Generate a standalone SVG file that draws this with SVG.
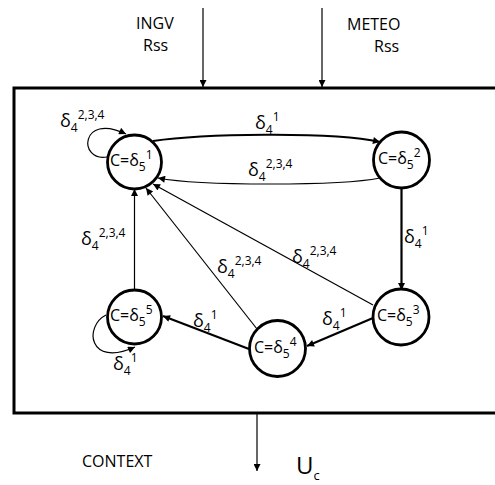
<svg xmlns="http://www.w3.org/2000/svg" width="495" height="485" viewBox="0 0 495 485">
<style>
text{font-family:"Open Sans","Liberation Sans",sans-serif;fill:#000}
.big{font-size:16px}
.nd{font-size:16px}
.lb{font-size:18px}
.s{font-size:12px}
.thin{fill:none;stroke:#000;stroke-width:1.2}
.thick{fill:none;stroke:#000;stroke-width:2.2}
circle{fill:#fff;stroke:#000;stroke-width:2.8}
</style>
<defs>
<marker id="ah" viewBox="0 0 10 10" refX="10" refY="5" markerWidth="8" markerHeight="7" markerUnits="userSpaceOnUse" orient="auto">
<path d="M0,0 L10,5 L0,10 z" fill="#000"/>
</marker>
</defs>
<rect x="14" y="88" width="500" height="325" fill="none" stroke="#000" stroke-width="3"/>
<g id="inputs">
<text class="big" x="136" y="29">INGV</text>
<text class="big" x="143" y="51">Rss</text>
<text class="big" x="347" y="30">METEO</text>
<text class="big" x="374" y="52">Rss</text>
<text class="big" x="82" y="467">CONTEXT</text>
<text x="296" y="474" style="font-size:24px">U<tspan dy="6" style="font-size:13px">c</tspan></text>
</g>
<g id="connectors">
<line class="thin" x1="203" y1="8" x2="203" y2="87" marker-end="url(#ah)"/>
<line class="thin" x1="322" y1="8" x2="322" y2="87" marker-end="url(#ah)"/>
<line class="thin" x1="257" y1="414" x2="257" y2="471" marker-end="url(#ah)"/>
<path class="thin" d="M107,157 C78,162 80,112 126,134" marker-end="url(#ah)"/>
<path class="thin" d="M106,315 C84,326 88,368 135,347" marker-end="url(#ah)"/>
<path class="thick" d="M153,141 C200,134 330,131 380,142" marker-end="url(#ah)"/>
<path class="thin" d="M380,178 C340,186 200,186 158,178" marker-end="url(#ah)"/>
<line class="thick" x1="401.5" y1="188" x2="401.5" y2="290" marker-end="url(#ah)"/>
<line class="thick" x1="373" y1="318" x2="307" y2="346" marker-end="url(#ah)"/>
<line class="thick" x1="249" y1="349" x2="163" y2="316" marker-end="url(#ah)"/>
<line class="thin" x1="134.5" y1="290" x2="134.5" y2="189" marker-end="url(#ah)"/>
<line class="thin" x1="257" y1="329" x2="146" y2="188" marker-end="url(#ah)"/>
<line class="thin" x1="373" y1="305" x2="153" y2="184" marker-end="url(#ah)"/>
<text class="lb" x="60" y="127">δ<tspan class="s" dy="5">4</tspan><tspan class="s" dy="-13">2,3,4</tspan></text>
<text class="lb" x="255" y="129">δ<tspan class="s" dy="5">4</tspan><tspan class="s" dy="-13">1</tspan></text>
<text class="lb" x="248" y="176">δ<tspan class="s" dy="5">4</tspan><tspan class="s" dy="-13">2,3,4</tspan></text>
<text class="lb" x="404" y="243">δ<tspan class="s" dy="5">4</tspan><tspan class="s" dy="-13">1</tspan></text>
<text class="lb" x="292" y="263">δ<tspan class="s" dy="5">4</tspan><tspan class="s" dy="-13">2,3,4</tspan></text>
<text class="lb" x="81" y="245">δ<tspan class="s" dy="5">4</tspan><tspan class="s" dy="-13">2,3,4</tspan></text>
<text class="lb" x="217" y="273">δ<tspan class="s" dy="5">4</tspan><tspan class="s" dy="-13">2,3,4</tspan></text>
<text class="lb" x="193" y="327">δ<tspan class="s" dy="5">4</tspan><tspan class="s" dy="-13">1</tspan></text>
<text class="lb" x="322" y="325">δ<tspan class="s" dy="5">4</tspan><tspan class="s" dy="-13">1</tspan></text>
<text class="lb" x="113" y="370">δ<tspan class="s" dy="5">4</tspan><tspan class="s" dy="-13">1</tspan></text>
</g>
<g id="n1"><circle cx="134.5" cy="162" r="27"/><text class="nd" x="110" y="166">C=δ<tspan class="s" dy="5">5</tspan><tspan class="s" dy="-12">1</tspan></text></g>
<g id="n2"><circle cx="401.5" cy="160" r="28"/><text class="nd" x="378" y="164">C=δ<tspan class="s" dy="5">5</tspan><tspan class="s" dy="-12">2</tspan></text></g>
<g id="n3"><circle cx="401" cy="317" r="28"/><text class="nd" x="377" y="321">C=δ<tspan class="s" dy="5">5</tspan><tspan class="s" dy="-12">3</tspan></text></g>
<g id="n4"><circle cx="277.5" cy="348.5" r="28"/><text class="nd" x="254" y="353">C=δ<tspan class="s" dy="5">5</tspan><tspan class="s" dy="-12">4</tspan></text></g>
<g id="n5"><circle cx="134.5" cy="317" r="27"/><text class="nd" x="110" y="321">C=δ<tspan class="s" dy="5">5</tspan><tspan class="s" dy="-12">5</tspan></text></g>
</svg>
